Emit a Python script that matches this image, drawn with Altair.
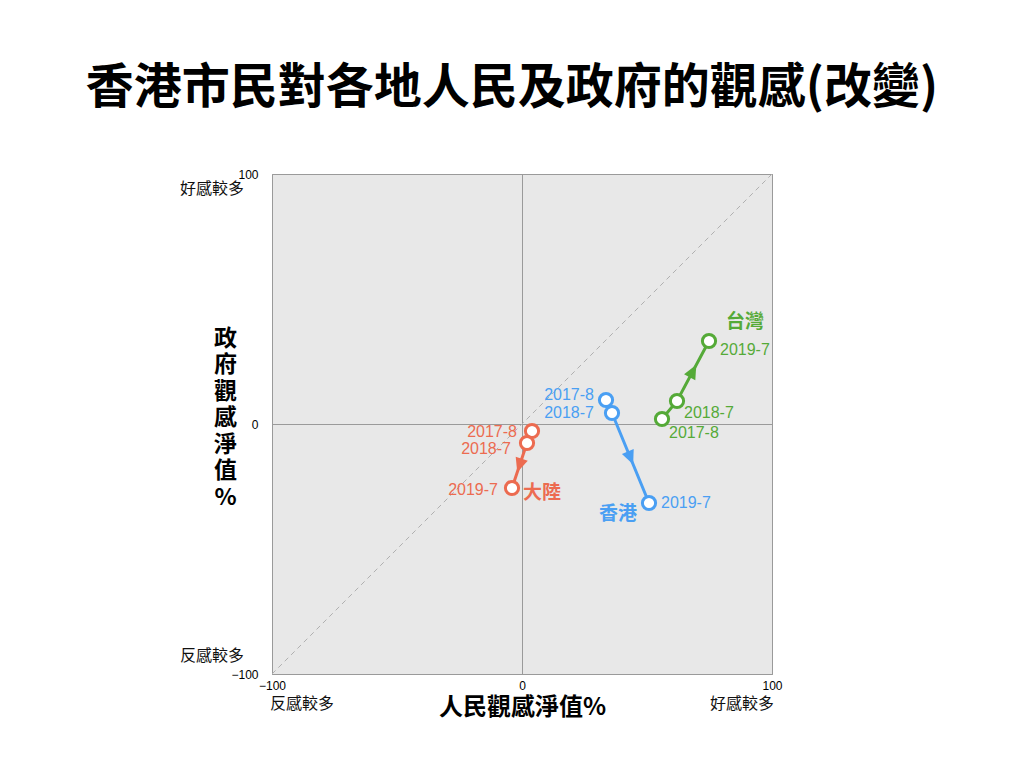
import math
import altair as alt
import pandas as pd

# ---------------- data ----------------
region_names = ["大陸", "香港", "台灣"]
periods = ["2017-8", "2018-7", "2019-7"]
mainland_people = [4.0, 2.0, -4.0]
mainland_gov = [-2.8, -7.6, -25.6]
hk_people = [33.6, 36.0, 50.8]
hk_gov = [9.6, 4.4, -31.6]
tw_people = [56.0, 62.0, 74.8]
tw_gov = [2.0, 9.2, 33.2]
tick_values = [-100, 0, 100]
fav_label = "好感較多"
unfav_label = "反感較多"

colors = ["#EC6B50", "#4A9FF3", "#55AA38"]

rows = []
for name, px, gy in zip(region_names,
                        [mainland_people, hk_people, tw_people],
                        [mainland_gov, hk_gov, tw_gov]):
    for i, (p, a, b) in enumerate(zip(periods, px, gy)):
        rows.append({"region": name, "period": p, "idx": i, "people": a, "gov": b})
df = pd.DataFrame(rows)

# arrowheads at the middle of the 2018-7 -> 2019-7 segment
arrows = []
for name, px, gy in zip(region_names,
                        [mainland_people, hk_people, tw_people],
                        [mainland_gov, hk_gov, tw_gov]):
    dx = px[2] - px[1]
    dy = gy[2] - gy[1]
    ang = math.degrees(math.atan2(dx, dy)) % 360
    arrows.append({"region": name, "people": px[1] + 0.5 * dx,
                   "gov": gy[1] + 0.5 * dy, "angle": ang})
adf = pd.DataFrame(arrows)

diag = pd.DataFrame({"people": [tick_values[0], tick_values[-1]],
                     "gov": [tick_values[0], tick_values[-1]]})

CJK = "Noto Sans CJK TC"
LAT = "Liberation Sans"

color_scale = alt.Scale(domain=region_names, range=colors)

xscale = alt.Scale(domain=[tick_values[0], tick_values[-1]], nice=False, zero=False)
yscale = alt.Scale(domain=[tick_values[0], tick_values[-1]], nice=False, zero=False)

x_axis = alt.Axis(values=tick_values, grid=True, gridColor="#9a9a9a", gridWidth=1,
                  ticks=False, domain=False, labelFont=LAT, labelFontSize=12,
                  labelColor="#000", labelPadding=6, labelFlush=False,
                  labelOverlap=False,
                  title="人民觀感淨值%", titleFont=CJK, titleFontSize=24,
                  titleFontWeight="bold", titleColor="#000", titleX=250, titleY=33,
                  titleBaseline="middle", titleAlign="center")
y_axis = alt.Axis(values=tick_values, grid=True, gridColor="#9a9a9a", gridWidth=1,
                  ticks=False, domain=False, labelFont=LAT, labelFontSize=12,
                  labelColor="#000", labelPadding=14, labelFlush=False,
                  labelOverlap=False,
                  title=list("政府觀感淨值%"), titleFont=CJK, titleFontSize=23,
                  titleFontWeight="bold", titleColor="#000", titleAngle=0,
                  titleX=-47, titleY=153, titleBaseline="top", titleAlign="center",
                  titleLineHeight=26.5)

X = alt.X("people:Q", scale=xscale, axis=x_axis)
Y = alt.Y("gov:Q", scale=yscale, axis=y_axis)

diag_line = alt.Chart(diag).mark_line(color="#b0b0b0", strokeWidth=1,
                                      strokeDash=[5, 4]).encode(x=X, y=Y)

lines = alt.Chart(df).mark_line(strokeWidth=3).encode(
    x=X, y=Y,
    color=alt.Color("region:N", scale=color_scale, legend=None),
    detail="region:N",
    order="idx:O",
)

arrow_shape = "M0,-1L0.9,1L-0.9,1Z"
heads = alt.Chart(adf).mark_point(shape=arrow_shape, filled=True, size=200,
                                  opacity=1).encode(
    x=X, y=Y,
    fill=alt.Fill("region:N", scale=color_scale, legend=None),
    angle=alt.Angle("angle:Q", scale=None),
)

points = alt.Chart(df).mark_point(shape="circle", size=175, strokeWidth=3,
                                  opacity=1).encode(
    x=X, y=Y,
    stroke=alt.Stroke("region:N", scale=color_scale, legend=None),
    fill=alt.value("white"),
)

# label placement (pixels) for each point label
label_layout = {
    ("大陸", "2017-8"): ("right", -15, 1),
    ("大陸", "2018-7"): ("right", -16, 6),
    ("大陸", "2019-7"): ("right", -14, 2),
    ("香港", "2017-8"): ("right", -12, -5),
    ("香港", "2018-7"): ("right", -18, 0),
    ("香港", "2019-7"): ("left", 12, 0),
    ("台灣", "2017-8"): ("left", 7, 14),
    ("台灣", "2018-7"): ("left", 7, 12),
    ("台灣", "2019-7"): ("left", 11, 9),
}
name_layout = {
    "大陸": ("left", 11, 5),
    "香港": ("center", -31, 11),
    "台灣": ("center", 36, -19),
}

layers = [diag_line, lines, heads, points]

for (reg, per), (al, ddx, ddy) in label_layout.items():
    layers.append(
        alt.Chart(df).transform_filter(
            (alt.datum.region == reg) & (alt.datum.period == per)
        ).mark_text(align=al, baseline="middle", dx=ddx, dy=ddy, font=LAT,
                    fontSize=16).encode(
            x=X, y=Y, text="period:N",
            color=alt.Color("region:N", scale=color_scale, legend=None),
        )
    )

for reg, (al, ddx, ddy) in name_layout.items():
    layers.append(
        alt.Chart(df).transform_filter(
            (alt.datum.region == reg) & (alt.datum.period == periods[-1])
        ).mark_text(align=al, baseline="middle", dx=ddx, dy=ddy, font=CJK,
                    fontSize=19, fontWeight="bold").encode(
            x=X, y=Y, text="region:N",
            color=alt.Color("region:N", scale=color_scale, legend=None),
        )
    )

# side annotations outside the plot area
side = [
    (fav_label, -60, 15),
    (unfav_label, -60, 482),
    (unfav_label, 30, 530),
    (fav_label, 470, 530),
]
for txt, vx, vy in side:
    layers.append(
        alt.Chart(pd.DataFrame({"t": [txt]})).mark_text(
            align="center", baseline="middle", font=CJK, fontSize=16,
            color="#111").encode(x=alt.value(vx), y=alt.value(vy), text="t:N")
    )

chart = alt.layer(*layers).properties(
    width=500, height=500,
    autosize=alt.AutoSizeParams(type="none"),
    padding={"left": 264, "top": 166, "right": 244, "bottom": 86},
    view=alt.ViewBackground(fill="#E8E8E8", stroke="#9a9a9a", strokeWidth=1),
    title=alt.TitleParams("香港市民對各地人民及政府的觀感(改變)", font=CJK,
                          fontSize=48, fontWeight="bold", color="#000",
                          anchor="middle", frame="group", offset=31, dx=-10,
                          baseline="middle"),
).configure_view(fill="#E8E8E8", stroke="#9a9a9a", strokeWidth=1
).configure(background="white")

chart.save("out.html", embed_options={"renderer": "svg", "actions": False})
